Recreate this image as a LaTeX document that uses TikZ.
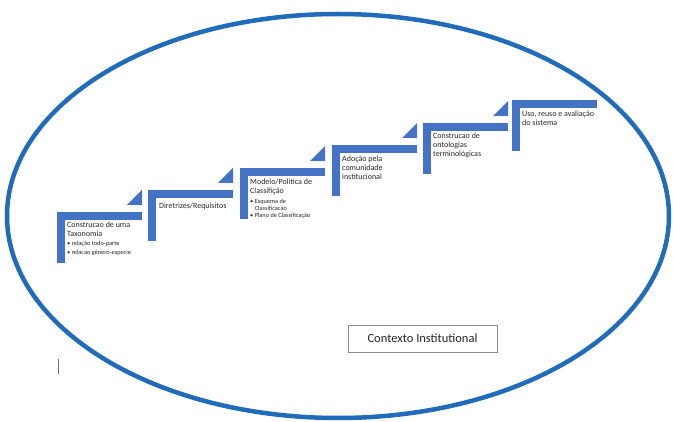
\documentclass[tikz,border=0pt]{standalone}
\usepackage{fontspec}
\setmainfont{Carlito}
\definecolor{stepblue}{RGB}{68,114,196}
\definecolor{ringblue}{RGB}{32,108,186}
\begin{document}
\begin{tikzpicture}[x=1pt,y=-1pt,
  steptext/.style={anchor=north west, inner sep=0pt, align=left, text=black!85,
    font=\fontsize{8}{8.8}\selectfont},
  subtext/.style={anchor=north west, inner sep=0pt, align=left, text=black!85,
    font=\fontsize{6.3}{7}\selectfont},
  ctxbox/.style={draw=black!45, line width=0.8pt, minimum width=149pt, minimum height=27pt,
    inner sep=0pt, text=black!85, font=\fontsize{12.5}{14}\selectfont}]
\useasboundingbox (0,0) rectangle (673,422);
\draw[ringblue, line width=4.5pt] (338,216) ellipse [x radius=331, y radius=202];
% steps
\foreach \i/\x/\y in {1/57/212, 2/148/190, 3/240/168, 4/332/145, 5/423/123, 6/512/100}{
  \fill[stepblue] (\x,\y) rectangle (\x+85,\y+8);
  \fill[stepblue] (\x,\y) rectangle (\x+8,\y+51);
}
\foreach \x/\y in {57/212, 148/190, 240/168, 332/145, 423/123}{
  \fill[stepblue] (\x+70,\y-7) -- (\x+85,\y-22) -- (\x+85,\y-7) -- cycle;
}
% texts
\node[steptext] (t1) at (67,222) {Construcao de uma\\Taxonomia};
\node[subtext] (b1) at (67,241) {\textbullet\ relação todo-parte\\[1.5pt]\textbullet\ relacao gênero-especie};
\node[steptext] (t2) at (159,203) {Diretrizes/Requisitos};
\node[steptext] (t3) at (250,179) {Modelo/Politica de\\Classifição};
\node[subtext] (b3) at (250,199) {\textbullet\ Esquema de\\\phantom{\textbullet\ }Classificacao\\\textbullet\ Plano de Classificação};
\node[steptext] (t4) at (342,156) {Adoção pela\\comunidade\\institucional};
\node[steptext] (t5) at (433,133) {Construcao de\\ontologias\\terminológicas};
\node[steptext] (t6) at (522,111) {Uso, reuso e avaliação\\do sistema};
\node[ctxbox] (ctx) at (422.5,338.5) {Contexto Institutional};
\coordinate (m1) at (58,359);
\coordinate (m2) at (58,374);
\draw[black!55, line width=0.8pt] (m1) -- (m2);
\end{tikzpicture}
\end{document}
